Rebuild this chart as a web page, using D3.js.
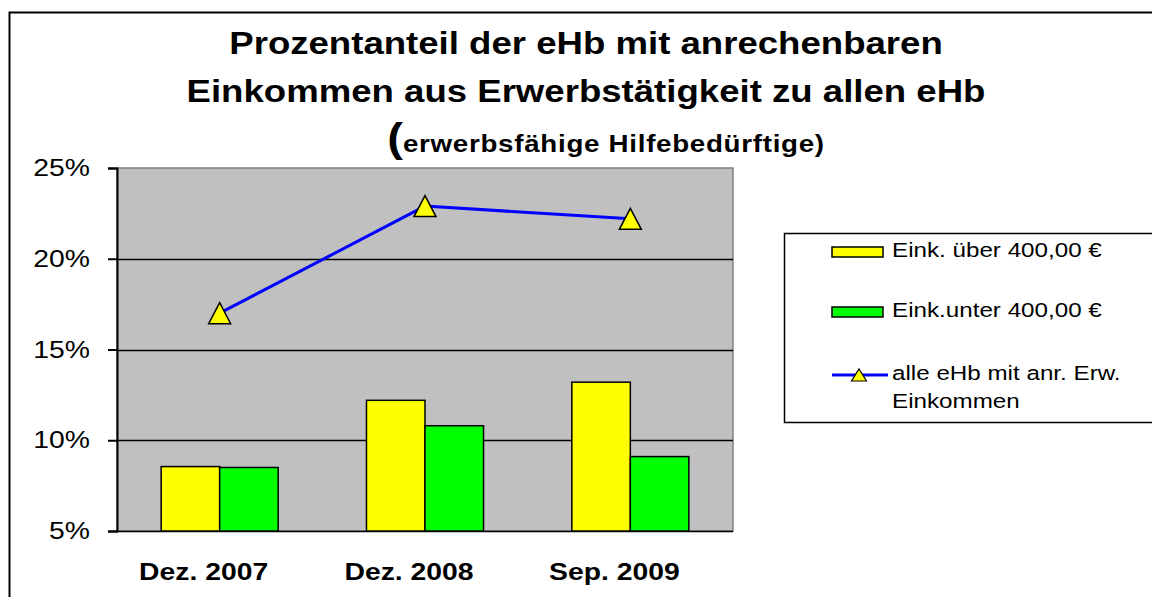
<!DOCTYPE html>
<html>
<head>
<meta charset="utf-8">
<script src="https://cdn.jsdelivr.net/npm/d3@7"></script>
<style>
  body { margin: 0; background: #fff; }
  svg { display: block; font-family: "Liberation Sans", Arial, sans-serif; }
</style>
</head>
<body>
<svg id="chart" width="1152" height="597"></svg>
<script>
// data
const categories = ['Dez. 2007', 'Dez. 2008', 'Sep. 2009'];
const ueber400 = [8.55, 12.2, 13.2];
const unter400 = [8.5, 10.8, 9.1];
const alleEhb = [17.0, 22.9, 22.2];
const yTicks = [5, 10, 15, 20, 25];
const seriesNames = ['Eink. über 400,00 €', 'Eink.unter 400,00 €', 'alle eHb mit anr. Erw.|Einkommen'];

const svg = d3.select('#chart');
const margin = { top: 168, left: 117, right: 419, bottom: 66 };
const width = +svg.attr('width');
const height = +svg.attr('height');
const innerWidth = width - margin.left - margin.right;
const innerHeight = height - margin.top - margin.bottom;

// the original text is a bit wider than Arial, stretch glyphs sideways
const stretchX = 1.18;
const stretch = sel => sel.each(function() {
  const w = this.getComputedTextLength();
  d3.select(this).attr('textLength', w * stretchX).attr('lengthAdjust', 'spacingAndGlyphs');
});

// outer chart border
svg.append('rect')
  .attr('x', 9.5).attr('y', 12.5)
  .attr('width', 1160).attr('height', 600)
  .attr('fill', '#fff').attr('stroke', '#000').attr('stroke-width', 2);

// title
const title = svg.append('g').attr('font-weight', 'bold').attr('text-anchor', 'middle');
title.append('text').attr('x', 586).attr('y', 54).attr('font-size', 31)
  .text('Prozentanteil der eHb mit anrechenbaren').call(stretch);
title.append('text').attr('x', 586).attr('y', 102).attr('font-size', 31)
  .text('Einkommen aus Erwerbstätigkeit zu allen eHb').call(stretch);
const sub = title.append('text').attr('x', 606).attr('y', 152);
sub.append('tspan').attr('font-size', 40).text('(');
sub.append('tspan').attr('font-size', 23.5).attr('letter-spacing', 0.6).text('erwerbsfähige Hilfebedürftige)');
sub.call(stretch);

const g = svg.append('g').attr('transform', `translate(${margin.left},${margin.top})`);

const xScale = d3.scaleBand().domain(categories).range([0, innerWidth])
  .paddingInner(0.43).paddingOuter(0.215);
const xSub = d3.scaleBand().domain([0, 1]).range([0, xScale.bandwidth()]);
const yScale = d3.scaleLinear().domain([5, 25]).range([innerHeight, 0]);

// plot area
g.append('rect')
  .attr('width', innerWidth).attr('height', innerHeight)
  .attr('fill', '#c0c0c0').attr('stroke', '#808080').attr('stroke-width', 1.5);

// gridlines
g.append('g').selectAll('line').data(yTicks.slice(0, -1)).enter().append('line')
  .attr('x1', 0).attr('x2', innerWidth)
  .attr('y1', d => Math.round(yScale(d)) + 0.5).attr('y2', d => Math.round(yScale(d)) + 0.5)
  .attr('stroke', '#000').attr('stroke-width', 1.5);

// y axis
const yAxis = d3.axisLeft(yScale).tickValues(yTicks).tickSize(9).tickPadding(18)
  .tickFormat(d => d + '%');
const yAxisG = g.append('g').call(yAxis);
yAxisG.select('.domain').attr('stroke', '#000').attr('stroke-width', 2);
yAxisG.selectAll('line').attr('stroke-width', 2);
yAxisG.selectAll('text').attr('font-size', 24).attr('fill', '#000')
  .attr('font-family', '"Liberation Sans", Arial, sans-serif').call(stretch);

// x axis labels
const xAxis = d3.axisBottom(xScale).tickSize(0).tickPadding(32);
const xAxisG = g.append('g').attr('transform', `translate(0,${innerHeight})`).call(xAxis);
xAxisG.select('.domain').remove();
xAxisG.selectAll('text').attr('font-size', 24).attr('font-weight', 'bold').attr('fill', '#000')
  .attr('dx', -16).attr('font-family', '"Liberation Sans", Arial, sans-serif').call(stretch);

// bars
const barColors = ['#ffff00', '#00ff00'];
[ueber400, unter400].forEach((values, i) => {
  g.append('g').selectAll('rect').data(values).enter().append('rect')
    .attr('x', (d, j) => xScale(categories[j]) + xSub(i))
    .attr('y', d => yScale(d))
    .attr('width', xSub.bandwidth())
    .attr('height', d => yScale(5) - yScale(d))
    .attr('fill', barColors[i]).attr('stroke', '#000').attr('stroke-width', 1.5);
});

// line with triangle markers
const line = d3.line()
  .x((d, j) => xScale(categories[j]) + xScale.bandwidth() / 2)
  .y(d => yScale(d));
g.append('path').datum(alleEhb)
  .attr('d', line).attr('fill', 'none').attr('stroke', '#0000ff').attr('stroke-width', 3);

const triangle = (w, h) => `M0,${-h / 2}L${w / 2},${h / 2}L${-w / 2},${h / 2}Z`;
g.append('g').selectAll('path').data(alleEhb).enter().append('path')
  .attr('transform', (d, j) => `translate(${xScale(categories[j]) + xScale.bandwidth() / 2},${yScale(d)})`)
  .attr('d', triangle(22, 21))
  .attr('fill', '#ffff00').attr('stroke', '#000').attr('stroke-width', 1.5);

// legend
const legend = svg.append('g').attr('transform', 'translate(784,233)');
legend.append('rect').attr('x', 0.5).attr('y', 0.5).attr('width', 400).attr('height', 189)
  .attr('fill', '#fff').attr('stroke', '#000').attr('stroke-width', 1.5);

const rowY = [19, 79, 142];
[0, 1].forEach(i => {
  legend.append('rect').attr('x', 48).attr('y', rowY[i] - 5).attr('width', 51).attr('height', 10)
    .attr('fill', barColors[i]).attr('stroke', '#000').attr('stroke-width', 1.5);
});
legend.append('line').attr('x1', 48).attr('x2', 104).attr('y1', rowY[2]).attr('y2', rowY[2])
  .attr('stroke', '#0000ff').attr('stroke-width', 3);
legend.append('path').attr('transform', `translate(75,${rowY[2]})`).attr('d', triangle(15, 12))
  .attr('fill', '#ffff00').attr('stroke', '#000').attr('stroke-width', 1.2);

seriesNames.forEach((name, i) => {
  const t = legend.append('text').attr('y', rowY[i] + 5).attr('font-size', 20.5).attr('fill', '#000');
  name.split('|').forEach((part, k) => {
    t.append('tspan').attr('x', 108).attr('dy', k === 0 ? 0 : 28).text(part).call(stretch);
  });
});
</script>
</body>
</html>
